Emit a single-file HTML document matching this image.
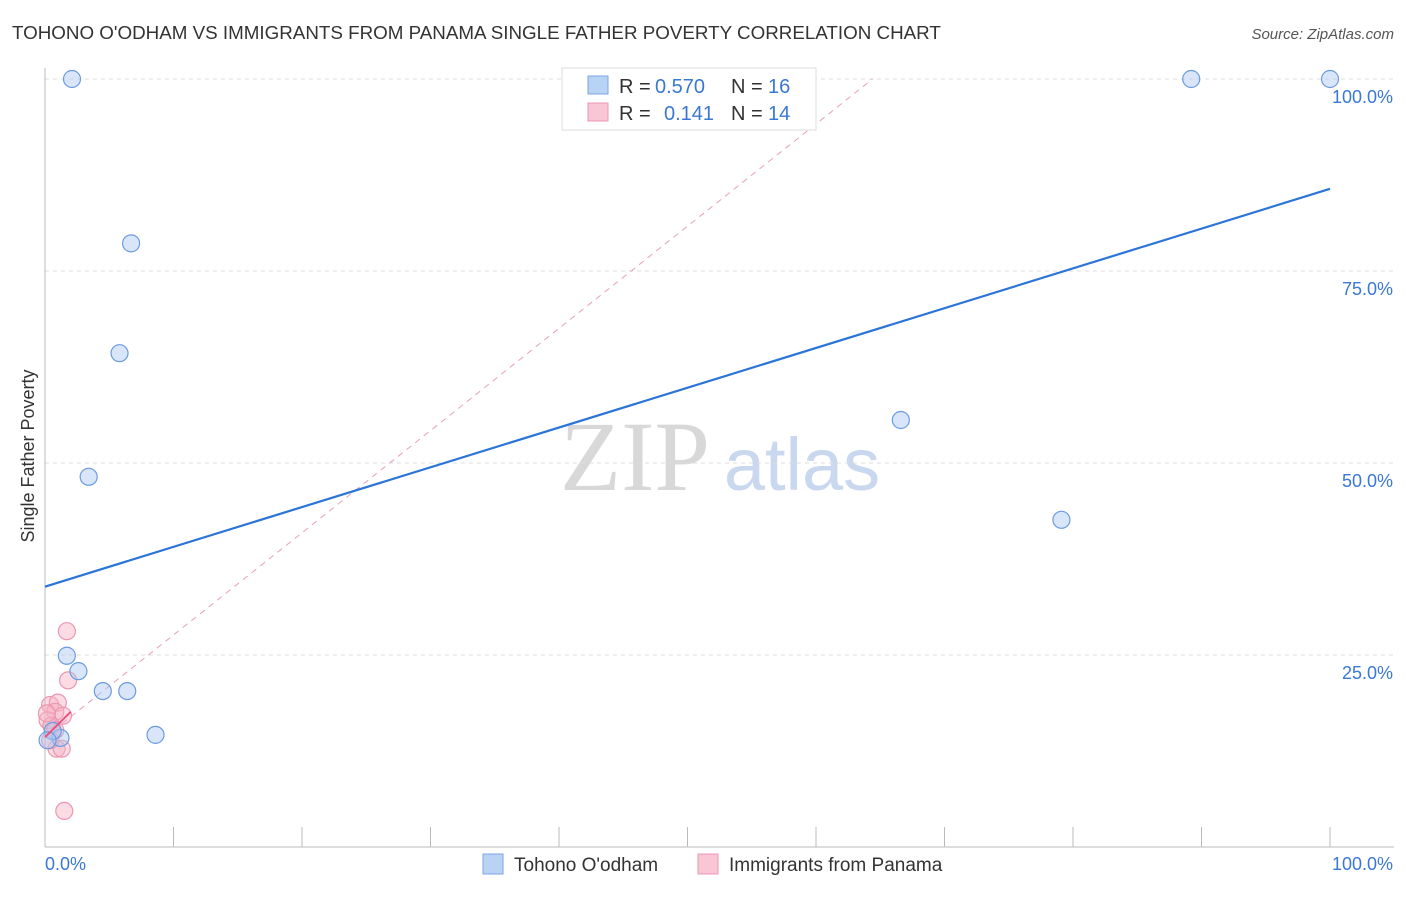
<!DOCTYPE html>
<html><head><meta charset="utf-8"><style>
body{margin:0;background:#fff;font-family:"Liberation Sans",sans-serif;}
</style></head><body>
<svg id="c" width="1406" height="892" xmlns="http://www.w3.org/2000/svg">
<text x="12" y="39" font-size="18.8" fill="#333">TOHONO O'ODHAM VS IMMIGRANTS FROM PANAMA SINGLE FATHER POVERTY CORRELATION CHART</text>
<text x="1394" y="39" font-size="15" fill="#555" font-style="italic" text-anchor="end">Source: ZipAtlas.com</text>
<text x="34" y="456" font-size="18" fill="#333" transform="rotate(-90 34 456)" text-anchor="middle">Single Father Poverty</text>
<g><text x="635" y="490" font-size="100" fill="#d8d8d8" font-family="Liberation Serif" text-anchor="middle">ZIP</text><text x="802" y="490" font-size="74" fill="#c9d8ef" text-anchor="middle">atlas</text></g>
<g id="grid"></g><g id="axes"></g><g id="marks"></g>
<g font-size="20">
<rect x="562" y="68" width="254" height="62" fill="#fff" stroke="#ddd"/>
<rect x="588" y="76" width="20" height="18" fill="#b9d3f5" stroke="#7aa6e0"/>
<text x="619" y="93" fill="#333">R =</text><text x="655" y="93" fill="#3a78d4">0.570</text>
<text x="731" y="93" fill="#333">N =</text><text x="768" y="93" fill="#3a78d4">16</text>
<rect x="588" y="103" width="20" height="18" fill="#f8c6d4" stroke="#eb97b0"/>
<text x="619" y="120" fill="#333">R =</text><text x="664" y="120" fill="#3a78d4">0.141</text>
<text x="731" y="120" fill="#333">N =</text><text x="768" y="120" fill="#3a78d4">14</text>
</g>
<g>
<rect x="483" y="854" width="20" height="20" fill="#b9d3f5" stroke="#7aa6e0"/>
<text x="514" y="871" font-size="19" fill="#333">Tohono O'odham</text>
<rect x="698" y="854" width="20" height="20" fill="#f8c6d4" stroke="#eb97b0"/>
<text x="729" y="871" font-size="19" fill="#333">Immigrants from Panama</text>
</g>
</svg>
<script>
const blueX=[2.1,6.7,5.8,3.4,1.7,2.6,4.5,6.4,8.6,1.2,0.6,0.2,66.6,79.1,89.2,100];
const blueY=[100,78.6,64.3,48.2,24.9,22.9,20.3,20.3,14.6,14.2,15.1,13.9,55.6,42.6,100,100];
const pinkX=[1.7,1.8,0.4,1.0,0.8,1.4,0.2,0.5,0.8,0.9,1.3,1.5,0.15,0.4];
const pinkY=[28.1,21.7,18.5,18.8,17.6,17.1,16.5,15.8,15.2,12.8,12.8,4.7,17.4,13.9];
const blueFit=[33.9,85.7];
const pinkFit=[14.3,15.6];
const yTicks=[25,50,75,100];
const yTickLabels=["25.0%","50.0%","75.0%","100.0%"];
const xTicks=[0,10,20,30,40,50,60,70,80,90,100];
const NS="http://www.w3.org/2000/svg";
const sx=v=>45+v*12.85, sy=v=>847-v*7.68;
function mk(p,t,a){const e=document.createElementNS(NS,t);for(const k in a)e.setAttribute(k,a[k]);document.getElementById(p).appendChild(e);return e;}
yTicks.forEach((t,i)=>{
 const l=mk('grid','line',{x1:45,x2:1394,y1:sy(t),y2:sy(t),stroke:'#ddd','stroke-dasharray':'4 4'});
 
 
 const tx=mk('axes','text',{x:1393,y:sy(t)+24,'font-size':18,fill:'#3a78d4','text-anchor':'end'});tx.textContent=yTickLabels[i];
 
 
});
let a=mk('axes','line',{x1:45,x2:45,y1:68,y2:847,stroke:'#bbb'});


a=mk('axes','line',{x1:45,x2:1394,y1:847,y2:847,stroke:'#bbb'});


xTicks.forEach(t=>{const l=mk('axes','line',{x1:sx(t),x2:sx(t),y1:827,y2:847,stroke:'#bbb'});
 
 });
let t0=mk('axes','text',{x:45,y:870,'font-size':18,fill:'#3a78d4'});t0.textContent='0.0%';


t0=mk('axes','text',{x:1393,y:870,'font-size':18,fill:'#3a78d4','text-anchor':'end'});t0.textContent='100.0%';


let pd=mk('marks','line',{x1:sx(0),y1:sy(pinkFit[0]),x2:sx(64.4),y2:sy(100),stroke:'#e8a0b6','stroke-dasharray':'6 5'});


pinkX.forEach((x,i)=>{const c=mk('marks','circle',{cx:sx(x),cy:sy(pinkY[i]),r:8.5,fill:'rgba(246,178,198,0.45)',stroke:'#eb97b0','stroke-width':1.2});
 
 });
blueX.forEach((x,i)=>{const c=mk('marks','circle',{cx:sx(x),cy:sy(blueY[i]),r:8.5,fill:'rgba(170,200,242,0.45)',stroke:'#6b9be0','stroke-width':1.2});
 
 });
let bl=mk('marks','line',{x1:sx(0),y1:sy(blueFit[0]),x2:sx(100),y2:sy(blueFit[1]),stroke:'#2b74d8','stroke-width':2.2});


let pl=mk('marks','line',{x1:sx(0),y1:sy(pinkFit[0]),x2:sx(2),y2:sy(pinkFit[1]+2),stroke:'#e8527e','stroke-width':2});


</script>
</body></html>
